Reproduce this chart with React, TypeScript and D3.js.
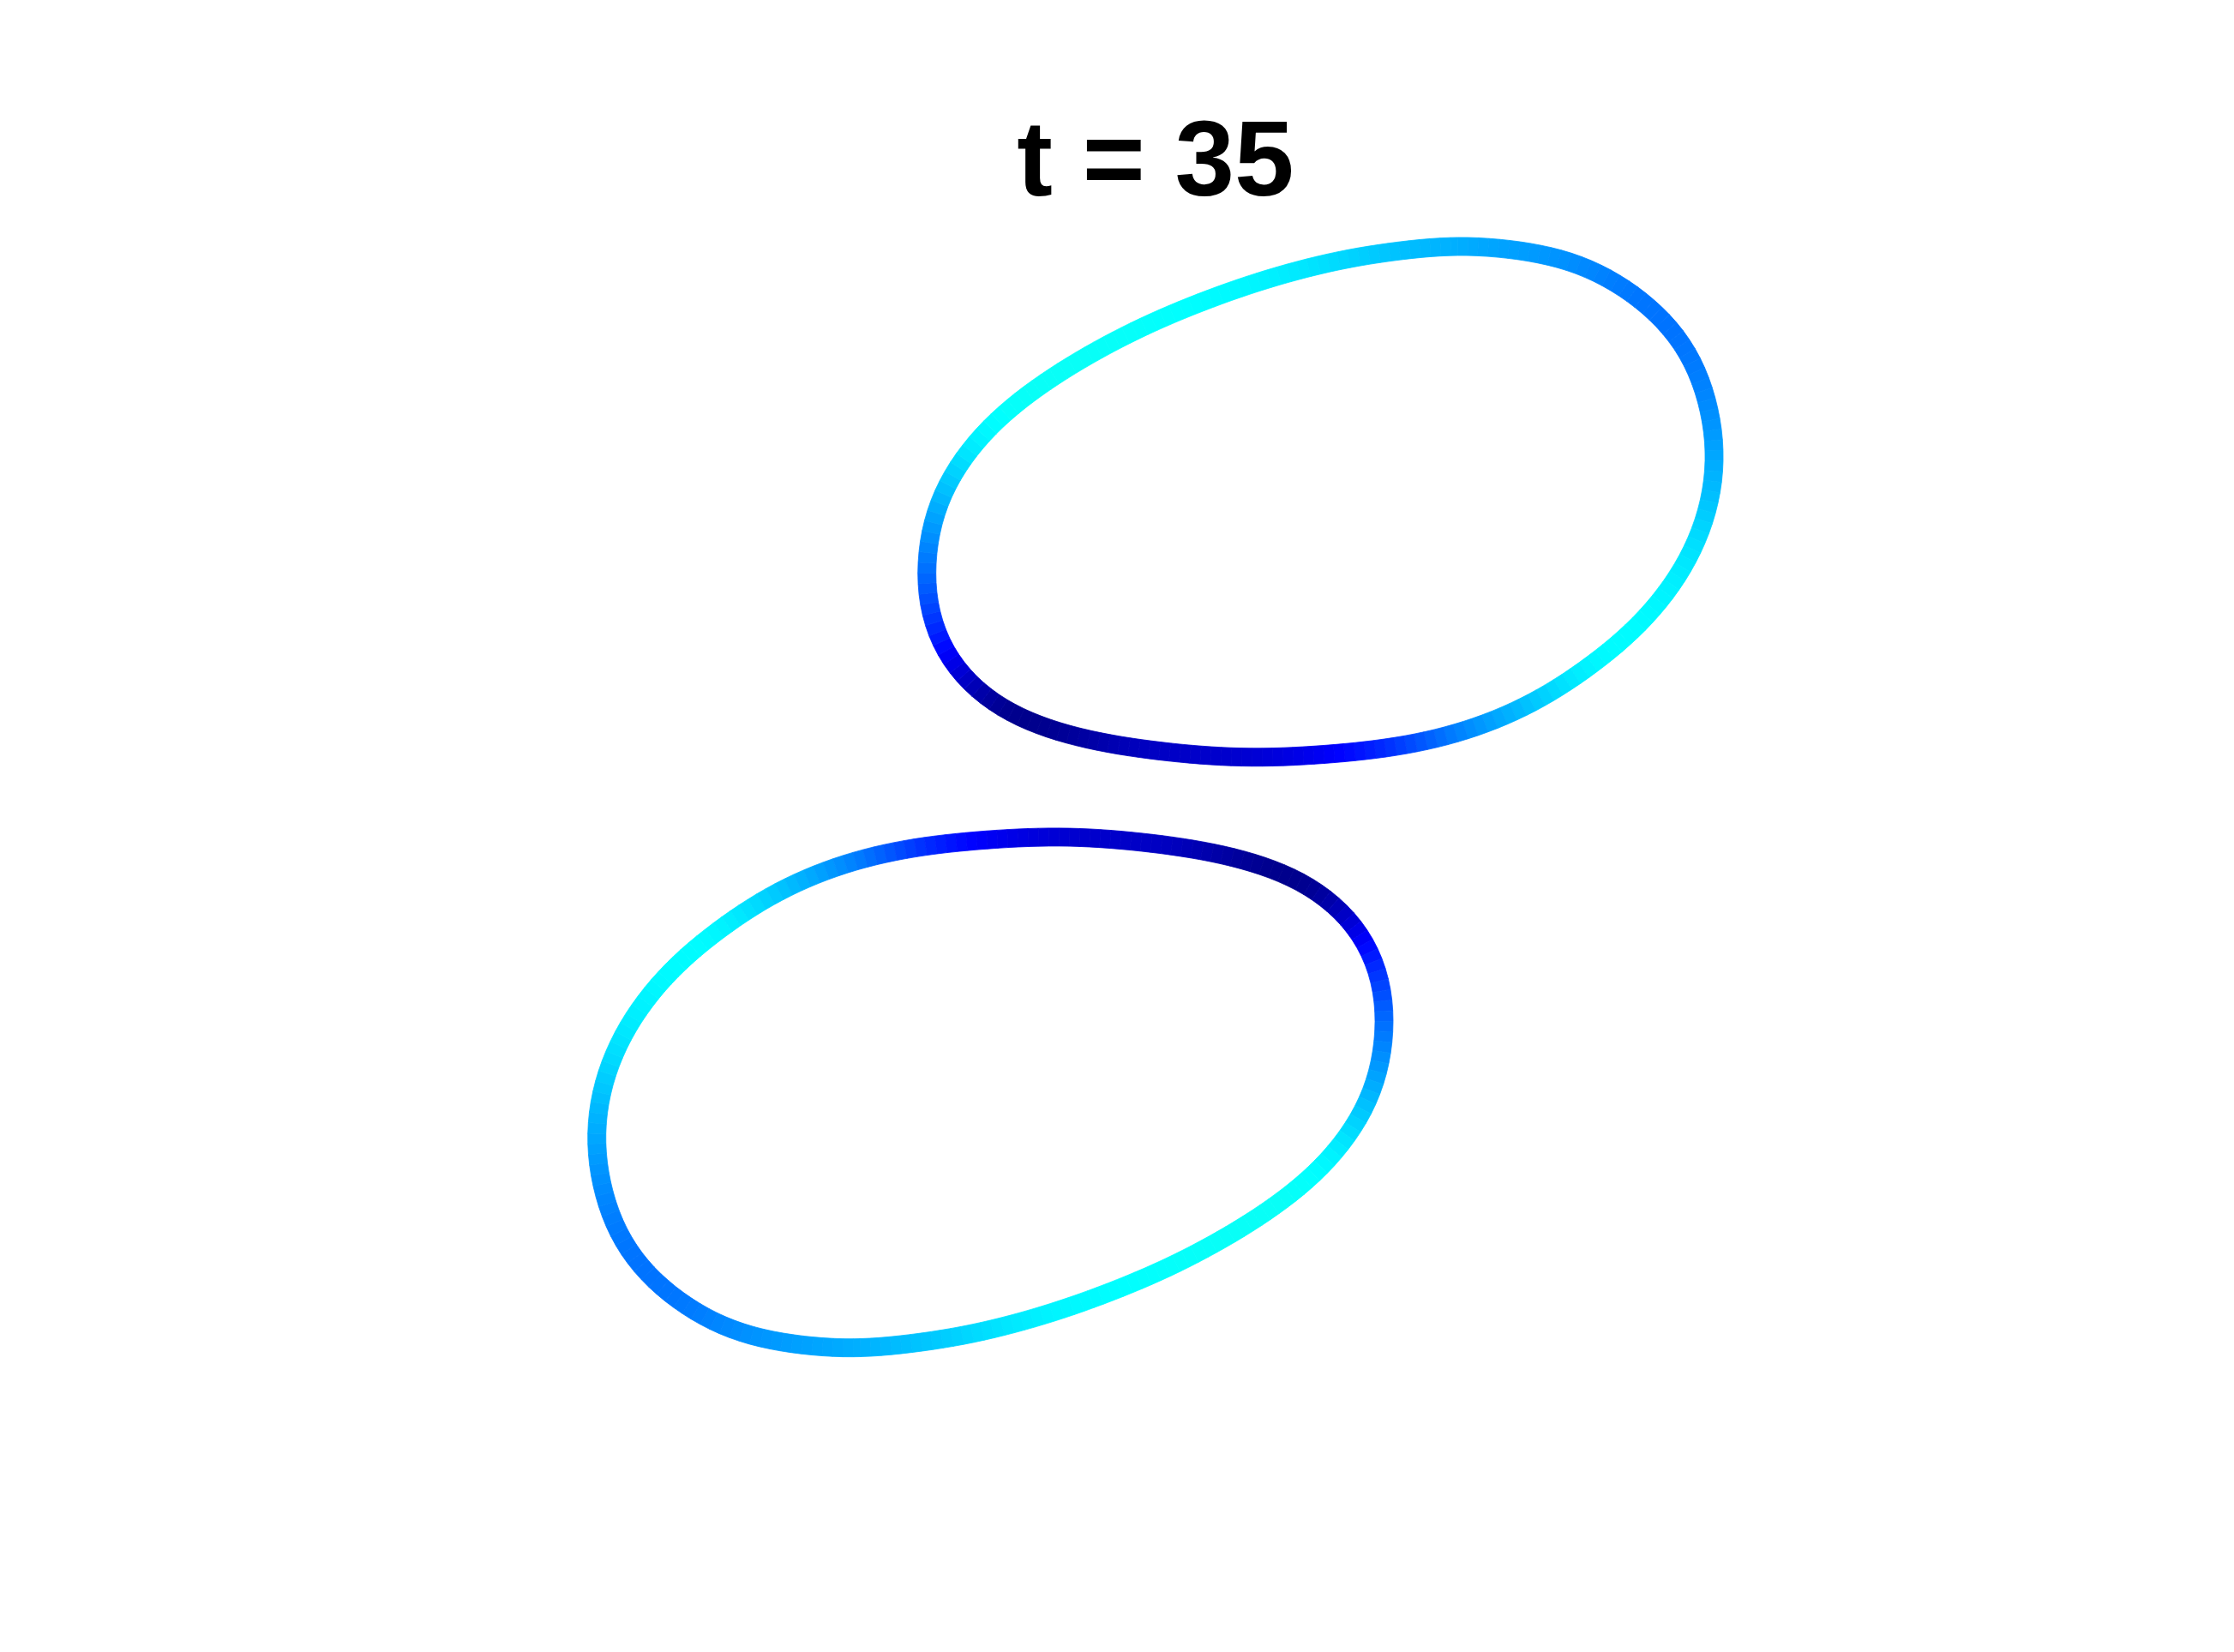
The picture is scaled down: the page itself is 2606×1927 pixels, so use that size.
import React from 'react';
import * as d3 from 'd3';

const WIDTH = 2606;
const HEIGHT = 1927;

// upper loop, traced from its top going clockwise (axis units, y up)
const upperX = [2.12, 2.72, 3.02, 3.304, 3.593, 3.785, 3.906, 3.936, 3.906, 3.821, 3.653, 3.37, 3.093, 2.799, 2.498, 2.1, 1.71, 1.27, 0.626, -0.041, -0.48, -0.769, -1.034, -1.281, -1.443, -1.546, -1.603, -1.618, -1.576, -1.467, -1.21, -0.836, -0.168, 0.56, 1.02, 1.39, 1.79];
const upperY = [3.875, 3.815, 3.73, 3.573, 3.333, 3.056, 2.671, 2.394, 2.105, 1.828, 1.515, 1.179, 0.95, 0.745, 0.585, 0.44, 0.355, 0.305, 0.276, 0.33, 0.402, 0.481, 0.589, 0.763, 0.944, 1.143, 1.343, 1.575, 1.925, 2.208, 2.56, 2.875, 3.266, 3.565, 3.705, 3.79, 3.845];
const upperC = [0.295, 0.275, 0.26, 0.24, 0.235, 0.24, 0.265, 0.29, 0.31, 0.345, 0.36, 0.375, 0.375, 0.34, 0.3, 0.255, 0.18, 0.12, 0.075, 0.07, 0.035, 0.01, 0.0, 0.04, 0.11, 0.16, 0.2, 0.23, 0.28, 0.32, 0.375, 0.385, 0.38, 0.37, 0.355, 0.33, 0.31];

// lower loop, traced from its bottom going clockwise
const lowerX = [-2.12, -2.72, -3.02, -3.304, -3.593, -3.785, -3.906, -3.936, -3.906, -3.821, -3.653, -3.37, -3.093, -2.799, -2.498, -2.1, -1.71, -1.27, -0.626, 0.041, 0.48, 0.769, 1.034, 1.281, 1.443, 1.546, 1.603, 1.618, 1.576, 1.467, 1.21, 0.836, 0.168, -0.56, -1.02, -1.39, -1.79];
const lowerY = [-3.875, -3.815, -3.73, -3.573, -3.333, -3.056, -2.671, -2.394, -2.105, -1.828, -1.515, -1.179, -0.95, -0.745, -0.585, -0.44, -0.355, -0.305, -0.276, -0.33, -0.402, -0.481, -0.589, -0.763, -0.944, -1.143, -1.343, -1.575, -1.925, -2.208, -2.56, -2.875, -3.266, -3.565, -3.705, -3.79, -3.845];
const lowerC = [0.295, 0.275, 0.26, 0.24, 0.235, 0.24, 0.265, 0.29, 0.31, 0.345, 0.36, 0.375, 0.375, 0.34, 0.3, 0.255, 0.18, 0.12, 0.075, 0.07, 0.035, 0.01, 0.0, 0.04, 0.11, 0.16, 0.2, 0.23, 0.28, 0.32, 0.375, 0.385, 0.38, 0.37, 0.355, 0.33, 0.31];

const titleText = 't = 35';

// jet colormap
const jet = d3
    .scaleLinear<string>()
    .domain([0, 0.125, 0.375, 0.625, 0.875, 1])
    .range(['#000080', '#0000ff', '#00ffff', '#ffff00', '#ff0000', '#800000'])
    .interpolate(d3.interpolateRgb);

const x = d3.scaleLinear().domain([-8.11, 7.57]).range([0, WIDTH]);
const y = d3.scaleLinear().domain([5.595, -6.0]).range([0, HEIGHT]);

const LINE_W = 21;
const DS = 4; // resample spacing, px
const SIGMA = 34; // smoothing of the hand-traced points, px
const PATCH = 3; // samples per colour patch

type Pt = { x: number; y: number; c: number };

// closed centripetal catmull-rom through the traced points, color carried along
function sampleLoop(xs: number[], ys: number[], cs: number[]): Pt[] {
    const n = xs.length;
    const P = xs.map((v, i) => [x(v), y(ys[i])]);
    const out: Pt[] = [];
    const dist = (a: number[], b: number[]) => Math.pow(Math.hypot(b[0] - a[0], b[1] - a[1]), 0.5) || 1e-6;
    const mix = (a: number[], b: number[], wa: number, wb: number) => [a[0] * wa + b[0] * wb, a[1] * wa + b[1] * wb];
    for (let i = 0; i < n; i++) {
        const p0 = P[(i - 1 + n) % n];
        const p1 = P[i];
        const p2 = P[(i + 1) % n];
        const p3 = P[(i + 2) % n];
        const t0 = 0;
        const t1 = t0 + dist(p0, p1);
        const t2 = t1 + dist(p1, p2);
        const t3 = t2 + dist(p2, p3);
        const len = Math.hypot(p2[0] - p1[0], p2[1] - p1[1]);
        const steps = Math.max(2, Math.round(len / 2));
        for (let s = 0; s < steps; s++) {
            const f = s / steps;
            const t = t1 + (t2 - t1) * f;
            const a1 = mix(p0, p1, (t1 - t) / (t1 - t0), (t - t0) / (t1 - t0));
            const a2 = mix(p1, p2, (t2 - t) / (t2 - t1), (t - t1) / (t2 - t1));
            const a3 = mix(p2, p3, (t3 - t) / (t3 - t2), (t - t2) / (t3 - t2));
            const b1 = mix(a1, a2, (t2 - t) / (t2 - t0), (t - t0) / (t2 - t0));
            const b2 = mix(a2, a3, (t3 - t) / (t3 - t1), (t - t1) / (t3 - t1));
            const c = mix(b1, b2, (t2 - t) / (t2 - t1), (t - t1) / (t2 - t1));
            out.push({ x: c[0], y: c[1], c: cs[i] + (cs[(i + 1) % n] - cs[i]) * f });
        }
    }
    return smoothLoop(out);
}

// resample evenly by arc length, then gaussian-smooth round the loop
function smoothLoop(pts: Pt[]): Pt[] {
    const m = pts.length;
    const cum = [0];
    for (let k = 1; k <= m; k++) {
        const a = pts[k - 1];
        const b = pts[k % m];
        cum.push(cum[k - 1] + Math.hypot(b.x - a.x, b.y - a.y));
    }
    const L = cum[m];
    const N = Math.round(L / DS);
    const even: Pt[] = [];
    let j = 0;
    for (let i = 0; i < N; i++) {
        const s = (i / N) * L;
        while (cum[j + 1] < s) j++;
        const f = (s - cum[j]) / (cum[j + 1] - cum[j] || 1);
        const a = pts[j];
        const b = pts[(j + 1) % m];
        even.push({ x: a.x + (b.x - a.x) * f, y: a.y + (b.y - a.y) * f, c: a.c + (b.c - a.c) * f });
    }
    const sig = SIGMA / (L / N);
    const R = Math.ceil(sig * 3);
    const w: number[] = [];
    for (let r = -R; r <= R; r++) w.push(Math.exp(-(r * r) / (2 * sig * sig)));
    const wsum = d3.sum(w);
    return even.map((_, i) => {
        let sx = 0, sy = 0, sc = 0;
        for (let r = -R; r <= R; r++) {
            const p = even[(i + r + N * 4) % N];
            const ww = w[r + R];
            sx += p.x * ww;
            sy += p.y * ww;
            sc += p.c * ww;
        }
        return { x: sx / wsum, y: sy / wsum, c: sc / wsum };
    });
}

function ribbon(all: Pt[]) {
    const pts = all.filter((_, k) => k % PATCH === 0);
    const m = pts.length;
    const h = LINE_W / 2;
    const edges = pts.map((p, k) => {
        const a = pts[(k - 1 + m) % m];
        const b = pts[(k + 1) % m];
        let dx = b.x - a.x;
        let dy = b.y - a.y;
        const len = Math.hypot(dx, dy) || 1;
        dx /= len;
        dy /= len;
        return {
            l: [p.x - dy * h, p.y + dx * h] as [number, number],
            r: [p.x + dy * h, p.y - dx * h] as [number, number],
        };
    });
    const line = d3.line();
    return pts.map((p, k) => {
        const k2 = (k + 1) % m;
        const d = line([edges[k].l, edges[k2].l, edges[k2].r, edges[k].r]) + 'Z';
        const col = jet((p.c + pts[k2].c) / 2);
        return <path key={k} d={d} fill={col} stroke={col} strokeWidth={0.8} />;
    });
}

export default function App() {
    const upper = sampleLoop(upperX, upperY, upperC);
    const lower = sampleLoop(lowerX, lowerY, lowerC);
    return (
        <svg
            width={WIDTH}
            height={HEIGHT}
            style={{ position: 'absolute', left: 0, top: 0, background: '#fff' }}
        >
            <rect width={WIDTH} height={HEIGHT} fill="#fff" />
            <g>{ribbon(upper)}</g>
            <g>{ribbon(lower)}</g>
            <text
                x={x(0)}
                y={228}
                textAnchor="middle"
                fontFamily="'Liberation Sans', Arial, Helvetica, sans-serif"
                fontWeight="bold"
                fontSize={125}
                fill="#000"
            >
                {titleText}
            </text>
        </svg>
    );
}
